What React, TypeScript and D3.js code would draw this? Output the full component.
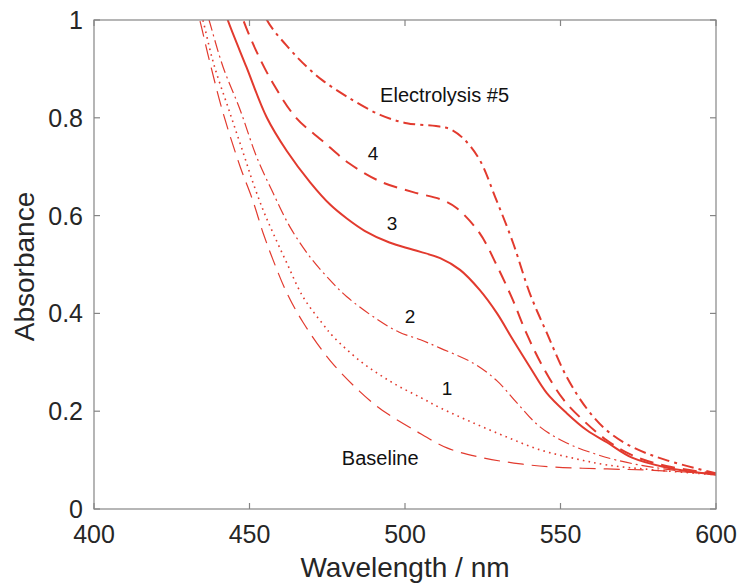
import React from "react";
import * as d3 from "d3";

const xTicks = [400, 450, 500, 550, 600];
const yTicks = [0, 0.2, 0.4, 0.6, 0.8, 1];

const wl5 = [453, 455.6, 463, 468.5, 473.6, 481.4, 492, 500.6, 510, 514.5, 518.7, 524, 529, 534.7, 540.2, 545.6, 552, 558.5, 565, 573, 584, 600];
const abs5 = [1.05, 1.0, 0.94, 0.904, 0.876, 0.843, 0.806, 0.789, 0.783, 0.777, 0.758, 0.714, 0.638, 0.545, 0.44, 0.36, 0.27, 0.205, 0.16, 0.127, 0.1, 0.073];

const wl4 = [446, 448, 452, 457.6, 465, 473.6, 482, 492, 502.6, 512, 516.7, 524, 529.6, 534.7, 539, 544.4, 550.8, 557.2, 565, 573, 584, 600];
const abs4 = [1.04, 1.0, 0.939, 0.87, 0.8, 0.752, 0.707, 0.67, 0.648, 0.632, 0.615, 0.564, 0.497, 0.427, 0.36, 0.29, 0.225, 0.182, 0.14, 0.11, 0.088, 0.072];

const wl3 = [441, 443, 449, 455.6, 462, 469.5, 476, 481.3, 487, 495, 502.6, 511.3, 517.7, 524, 529.6, 534.7, 540.2, 545.6, 552, 558.5, 565, 573, 584, 600];
const abs3 = [1.04, 1.0, 0.904, 0.8, 0.732, 0.668, 0.622, 0.594, 0.569, 0.545, 0.53, 0.513, 0.489, 0.448, 0.4, 0.346, 0.29, 0.237, 0.196, 0.161, 0.136, 0.105, 0.085, 0.07];

const wl2 = [435, 437, 441.5, 447, 452.3, 457.6, 463, 469.5, 475.9, 481.3, 491, 498, 505, 511.3, 522, 529.6, 536, 543.4, 552, 560.5, 568, 580, 600];
const abs2 = [1.045, 1.0, 0.904, 0.816, 0.72, 0.646, 0.577, 0.515, 0.468, 0.434, 0.388, 0.362, 0.346, 0.329, 0.298, 0.262, 0.217, 0.168, 0.135, 0.114, 0.1, 0.085, 0.07];

const wl1 = [433, 435, 438.5, 443.7, 448, 451.2, 454.4, 457.6, 462, 467.2, 473.6, 477, 485.5, 492, 498, 505, 511.3, 522, 532.8, 543.4, 554, 565, 580, 600];
const abs1 = [1.045, 1.0, 0.91, 0.81, 0.728, 0.666, 0.611, 0.564, 0.503, 0.434, 0.378, 0.352, 0.303, 0.274, 0.251, 0.228, 0.207, 0.176, 0.147, 0.121, 0.104, 0.09, 0.08, 0.07];

const wlB = [432, 434, 437, 441.5, 447, 451, 454.4, 457.6, 462, 467.2, 476, 485.5, 491, 495, 502.6, 513.5, 524, 535, 547, 565, 580, 600];
const absB = [1.045, 1.0, 0.92, 0.81, 0.7, 0.632, 0.564, 0.509, 0.442, 0.382, 0.303, 0.24, 0.21, 0.192, 0.163, 0.125, 0.106, 0.094, 0.086, 0.082, 0.079, 0.072];

const seriesNames = ["Baseline", "1", "2", "3", "4", "Electrolysis #5"];
const seriesWl = [wlB, wl1, wl2, wl3, wl4, wl5];
const seriesAbs = [absB, abs1, abs2, abs3, abs4, abs5];
const seriesStyle = [
  { w: 1.2, dash: "16 8" },
  { w: 1.6, dash: "1.6 4.2" },
  { w: 1.2, dash: "12 4 2 4" },
  { w: 2, dash: "" },
  { w: 2, dash: "14 8" },
  { w: 2, dash: "12 5 3 5" },
];
// annotation anchors (data coords) and text
const labelWl = [479.7, 513.5, 501.6, 495.8, 489.7, 492];
const labelAbs = [0.09, 0.233, 0.38, 0.571, 0.714, 0.832];
const labelAnchor = ["start", "middle", "middle", "middle", "middle", "start"];

const W = 740;
const H = 583;
const M = { left: 94, right: 716, top: 20, bottom: 509 };
const RED = "#e23a2e";
const FONT = "'Liberation Sans', Arial, Helvetica, sans-serif";

export default function App() {
  const x = d3.scaleLinear().domain([400, 600]).range([M.left, M.right]);
  const y = d3.scaleLinear().domain([0, 1]).range([M.bottom, M.top]);
  const line = d3
    .line<[number, number]>()
    .x((d) => x(d[0]))
    .y((d) => y(d[1]))
    .curve(d3.curveCatmullRom.alpha(0.5));

  return (
    <div style={{ position: "absolute", left: 0, top: 0 }}>
      <svg width={W} height={H} style={{ display: "block", fontFamily: FONT }}>
        <rect x={0} y={0} width={W} height={H} fill="#fff" />
        <defs>
          <clipPath id="plotclip">
            <rect x={M.left} y={M.top} width={M.right - M.left} height={M.bottom - M.top} />
          </clipPath>
        </defs>
        <g clipPath="url(#plotclip)">
          {seriesWl.map((wl, i) => {
            const pts = wl.map((v, j) => [v, seriesAbs[i][j]] as [number, number]);
            return (
              <path
                key={seriesNames[i]}
                d={line(pts) || ""}
                fill="none"
                stroke={RED}
                strokeWidth={seriesStyle[i].w}
                strokeDasharray={seriesStyle[i].dash || undefined}
              />
            );
          })}
        </g>
        <rect
          x={M.left}
          y={M.top}
          width={M.right - M.left}
          height={M.bottom - M.top}
          fill="none"
          stroke="#858585"
          strokeWidth={1.2}
        />
        {xTicks.map((t) => (
          <g key={"x" + t}>
            <line x1={x(t)} x2={x(t)} y1={M.bottom} y2={M.bottom - 6} stroke="#858585" strokeWidth={1.2} />
            <line x1={x(t)} x2={x(t)} y1={M.top} y2={M.top + 6} stroke="#858585" strokeWidth={1.2} />
            <text x={x(t)} y={M.bottom + 34} textAnchor="middle" fontSize={25} fill="#262626">
              {String(t)}
            </text>
          </g>
        ))}
        {yTicks.map((t) => (
          <g key={"y" + t}>
            <line x1={M.left} x2={M.left + 6} y1={y(t)} y2={y(t)} stroke="#858585" strokeWidth={1.2} />
            <line x1={M.right} x2={M.right - 6} y1={y(t)} y2={y(t)} stroke="#858585" strokeWidth={1.2} />
            <text x={M.left - 11} y={y(t) + 9} textAnchor="end" fontSize={25} fill="#262626">
              {String(t)}
            </text>
          </g>
        ))}
        <text x={(M.left + M.right) / 2} y={577} textAnchor="middle" fontSize={28} fill="#262626">
          Wavelength / nm
        </text>
        <text
          transform={`translate(34, ${(M.top + M.bottom) / 2 + 2}) rotate(-90)`}
          textAnchor="middle"
          fontSize={28}
          fill="#262626"
        >
          Absorbance
        </text>
        {seriesNames.map((n, i) => (
          <text
            key={"l" + n}
            x={x(labelWl[i])}
            y={y(labelAbs[i])}
            textAnchor={labelAnchor[i]}
            fontSize={i === 0 || i === 5 ? 20 : 19}
            fill="#111"
          >
            {n}
          </text>
        ))}
      </svg>
    </div>
  );
}
